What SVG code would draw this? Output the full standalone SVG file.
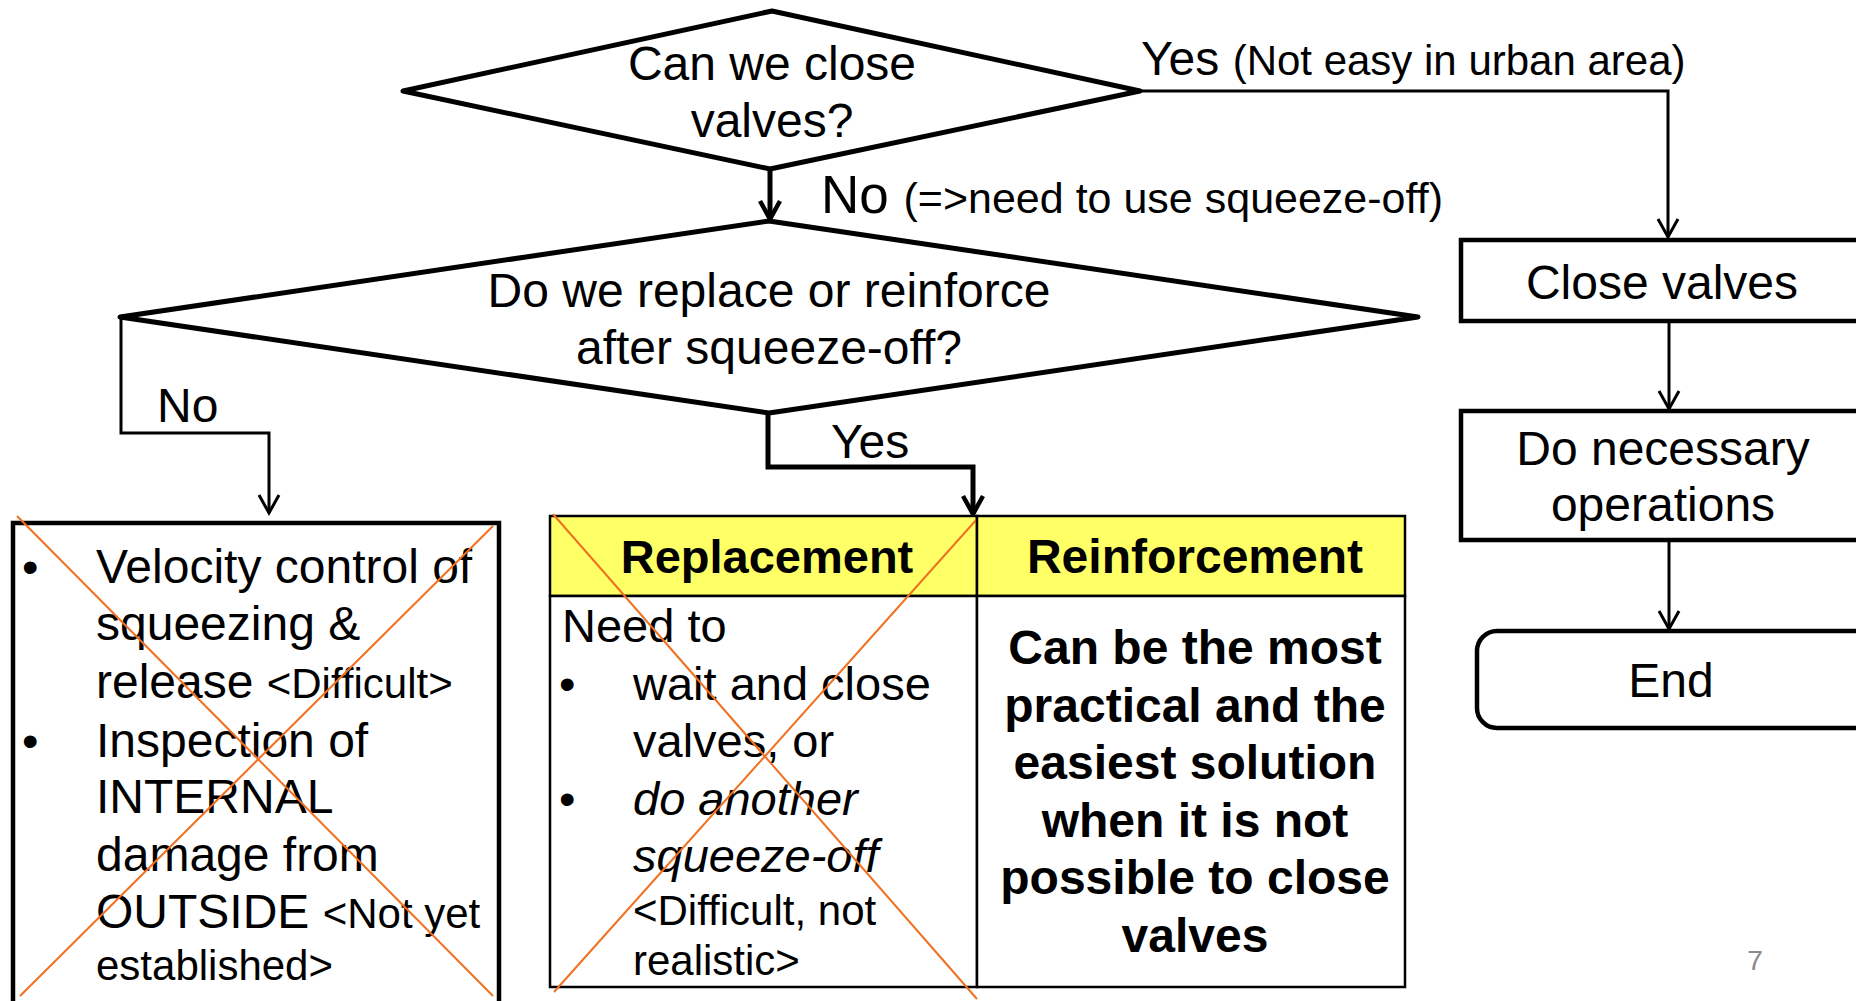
<svg xmlns="http://www.w3.org/2000/svg" width="1856" height="1001" viewBox="0 0 1856 1001">
  <style>
    text { font-family: "Liberation Sans", Arial, sans-serif; fill: #000; }
    .t48 { font-size: 48px; }
    .t47 { font-size: 47px; }
    .t43 { font-size: 43px; }
    .t42 { font-size: 42px; }
    .mid { text-anchor: middle; }
    .b { font-weight: bold; }
    .i { font-style: italic; }
    .diamond { fill: #fff; stroke: #000; stroke-width: 5; stroke-linejoin: round; }
    .box { fill: #fff; stroke: #000; stroke-width: 4.5; }
    .cell { fill: #fff; stroke: #000; stroke-width: 2.5; }
    .head { fill: #ffff66; stroke: #000; stroke-width: 2.5; }
    .cross { stroke: #f07020; stroke-width: 2; fill: none; }
    .wire { fill: none; stroke: #000; stroke-width: 3; stroke-linejoin: miter; }
    .wire-heavy { fill: none; stroke: #000; stroke-width: 5; stroke-linejoin: miter; }
    .pageno { font-size: 28px; fill: #8a8a8a; }
  </style>
  <defs>
    <marker id="arrow" markerUnits="userSpaceOnUse" viewBox="-22 -14 26 28" refX="0" refY="0" markerWidth="26" markerHeight="28" orient="auto" overflow="visible">
      <path d="M-18,-10 L0,0 L-18,10" fill="none" stroke="#000" stroke-width="3"/>
    </marker>
    <marker id="arrow-heavy" markerUnits="userSpaceOnUse" viewBox="-22 -14 26 28" refX="0" refY="0" markerWidth="26" markerHeight="28" orient="auto" overflow="visible">
      <path d="M-18,-10 L0,0 L-18,10" fill="none" stroke="#000" stroke-width="4.5"/>
    </marker>
  </defs>

  <rect width="1856" height="1001" fill="#fff"/>

  <!-- connectors -->
  <g id="connectors">
    <path class="wire-heavy" d="M770,169 V219" marker-end="url(#arrow-heavy)"/>
    <path class="wire" d="M1140,91 H1668 V237" marker-end="url(#arrow)"/>
    <path class="wire" d="M1669,321 V409" marker-end="url(#arrow)"/>
    <path class="wire" d="M1669,540 V629" marker-end="url(#arrow)"/>
    <path class="wire" d="M121,317 V433 H269 V513" marker-end="url(#arrow)"/>
    <path class="wire-heavy" d="M768,413 V467 H973 V514" marker-end="url(#arrow-heavy)"/>
    <text class="t48" x="1141" y="75">Yes <tspan class="t42">(Not easy in urban area)</tspan></text>
    <text x="821" y="213" style="font-size:53px">No <tspan class="t43">(=&gt;need to use squeeze-off)</tspan></text>
    <text class="t48" x="157" y="422">No</text>
    <text class="t48" x="831" y="458">Yes</text>
  </g>

  <!-- decision: close valves -->
  <g id="q-close-valves">
    <polygon class="diamond" points="772,11 1140,91 770,169 403,91"/>
    <text class="t48 mid" x="772" y="80">Can we close</text>
    <text class="t48 mid" x="772" y="137">valves?</text>
  </g>

  <!-- decision: replace or reinforce -->
  <g id="q-replace-reinforce">
    <polygon class="diamond" points="769,221 1418,317 769,413 120,317"/>
    <text class="t48 mid" x="769" y="307">Do we replace or reinforce</text>
    <text class="t48 mid" x="769" y="364">after squeeze-off?</text>
  </g>

  <!-- process: close valves -->
  <g id="close-valves">
    <rect class="box" x="1461" y="240" width="420" height="81"/>
    <text class="t48 mid" x="1662" y="299">Close valves</text>
  </g>

  <!-- process: operations -->
  <g id="operations">
    <rect class="box" x="1461" y="411" width="420" height="129"/>
    <text class="t48 mid" x="1663" y="465">Do necessary</text>
    <text class="t48 mid" x="1663" y="521">operations</text>
  </g>

  <!-- terminator -->
  <g id="end">
    <rect class="box" x="1477" y="631" width="420" height="97" rx="20" ry="20"/>
    <text class="t48 mid" x="1671" y="697">End</text>
  </g>

  <!-- rejected option: squeeze control / inspection -->
  <g id="option-control">
    <rect class="box" x="13" y="523" width="486" height="500"/>
    <text class="t47" x="22" y="583">•</text>
    <text class="t48" x="96" y="583">Velocity control of</text>
    <text class="t48" x="96" y="640">squeezing &amp;</text>
    <text class="t48" x="96" y="698">release <tspan class="t42">&lt;Difficult&gt;</tspan></text>
    <text class="t47" x="22" y="757">•</text>
    <text class="t48" x="96" y="757">Inspection of</text>
    <text class="t48" x="96" y="813">INTERNAL</text>
    <text class="t48" x="96" y="871">damage from</text>
    <text class="t48" x="96" y="928">OUTSIDE <tspan class="t42">&lt;Not yet</tspan></text>
    <text class="t42" x="96" y="980">established&gt;</text>
    <line class="cross" x1="17" y1="516" x2="493" y2="996"/>
    <line class="cross" x1="493" y1="526" x2="20" y2="996"/>
  </g>

  <!-- option table: replacement -->
  <g id="option-replacement">
    <rect class="head" x="550" y="516" width="427" height="80"/>
    <rect class="cell" x="550" y="596" width="427" height="391"/>
    <text class="t47 mid b" x="767" y="573">Replacement</text>
    <text class="t47" x="562" y="642">Need to</text>
    <text class="t47" x="559" y="700">•</text>
    <text class="t47" x="633" y="700">wait and close</text>
    <text class="t47" x="633" y="757">valves, or</text>
    <text class="t47" x="559" y="815">•</text>
    <text class="t47 i" x="633" y="815">do another</text>
    <text class="t47 i" x="633" y="872">squeeze-off</text>
    <text class="t42" x="633" y="925">&lt;Difficult, not</text>
    <text class="t42" x="633" y="975">realistic&gt;</text>
    <line class="cross" x1="553" y1="514" x2="977" y2="999"/>
    <line class="cross" x1="977" y1="519" x2="554" y2="992"/>
  </g>

  <!-- option table: reinforcement -->
  <g id="option-reinforcement">
    <rect class="head" x="977" y="516" width="428" height="80"/>
    <rect class="cell" x="977" y="596" width="428" height="391"/>
    <text class="t48 mid b" x="1195" y="573">Reinforcement</text>
    <text class="t48 mid b" x="1195" y="664">Can be the most</text>
    <text class="t48 mid b" x="1195" y="722">practical and the</text>
    <text class="t48 mid b" x="1195" y="779">easiest solution</text>
    <text class="t48 mid b" x="1195" y="837">when it is not</text>
    <text class="t48 mid b" x="1195" y="894">possible to close</text>
    <text class="t48 mid b" x="1195" y="952">valves</text>
  </g>

  <text class="pageno mid" x="1755" y="970">7</text>
</svg>
